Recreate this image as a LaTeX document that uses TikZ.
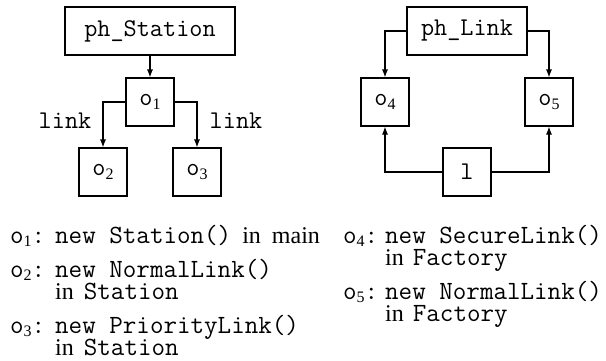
\documentclass[tikz,border=0pt]{standalone}
\usepackage{fontspec}
\setmainfont{Liberation Serif}
\usetikzlibrary{arrows.meta}
\newcommand{\ob}[1]{{\ttfamily o}\raisebox{-0.3ex}{\rmfamily\fontsize{16}{16}\selectfont #1}}
\begin{document}
\begin{tikzpicture}[x=1pt,y=-1pt,
  box/.style={draw,line width=1.1pt,minimum width=48pt,minimum height=48pt,inner sep=0pt,
    font=\fontsize{25.5}{25.5}\selectfont\ttfamily},
  arr/.style={line width=1.1pt,-{Latex[length=8pt,width=6pt]}},
  lst/.style={anchor=base west,inner sep=0pt,font=\fontsize{26.3}{26.3}\selectfont\ttfamily},
  lbl/.style={inner sep=0pt,font=\fontsize{25.5}{25.5}\selectfont\ttfamily}]
\useasboundingbox (0,0) rectangle (606,360);
% left graph
\node[box,minimum width=170pt] (phS) at (150,31) {ph\_Station};
\node[box] (o1) at (150,102) {\ob{1}};
\node[box] (o2) at (103,172) {\ob{2}};
\node[box] (o3) at (197,172) {\ob{3}};
\draw[arr] (phS) -- (o1);
\draw[arr] (o1.west) -| (o2.north);
\draw[arr] (o1.east) -| (o3.north);
\node[lbl] (lk1) at (65,121) {link};
\node[lbl] (lk2) at (236,121) {link};
% right graph
\node[box,minimum width=120pt] (phL) at (467,31) {ph\_Link};
\node[box] (o4) at (385,102) {\ob{4}};
\node[box] (o5) at (549,102) {\ob{5}};
\node[box] (lbox) at (467,172) {l};
\draw[arr] (phL.west) -| (o4.north);
\draw[arr] (phL.east) -| (o5.north);
\draw[arr] (lbox.west) -| (o4.south);
\draw[arr] (lbox.east) -| (o5.south);
% legend
\node[lst] (t1a) at (10,243) {\ob{1}:};
\node[lst] (t1b) at (55,243) {new Station(){\rmfamily\fontsize{24}{24}\selectfont\hspace{11pt}in\hspace{11pt}main}};
\node[lst] (t2a) at (10,277) {\ob{2}:};
\node[lst] (t2b) at (55,277) {new NormalLink()};
\node[lst] (t2c) at (55,299) {{\rmfamily\fontsize{24}{24}\selectfont in}\hspace{10pt}Station};
\node[lst] (t3a) at (10,333) {\ob{3}:};
\node[lst] (t3b) at (55,333) {new PriorityLink()};
\node[lst] (t3c) at (55,355) {{\rmfamily\fontsize{24}{24}\selectfont in}\hspace{10pt}Station};
\node[lst] (t4a) at (343,243) {\ob{4}:};
\node[lst] (t4b) at (385,243) {new SecureLink()};
\node[lst] (t4c) at (385,265) {{\rmfamily\fontsize{24}{24}\selectfont in}\hspace{9pt}Factory};
\node[lst] (t5a) at (343,299) {\ob{5}:};
\node[lst] (t5b) at (385,299) {new NormalLink()};
\node[lst] (t5c) at (385,321) {{\rmfamily\fontsize{24}{24}\selectfont in}\hspace{9pt}Factory};
\end{tikzpicture}
\end{document}
